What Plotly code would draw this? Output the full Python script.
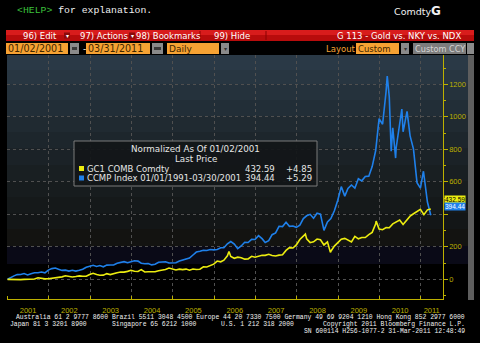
import plotly.graph_objects as go

W, H = 480, 343

# ---------------- data ----------------
start_date = "2001-01-02"
end_date = "2011-03-30"
# month-end values, Jan 2001 .. Feb 2011 (percent change since 01/02/2001)
gold_monthly = [
    -0.7, -0.3, -3.7, -1.6, 0.0, 1.2, -0.6, 2.1, 9.6, 4.2, 3.0, 3.4,
    5.5, 11.0, 12.7, 15.2, 22.0, 19.0, 14.0, 17.0, 21.0, 18.5, 19.3, 29.8,
    37.4, 29.9, 25.2, 25.9, 35.1, 29.3, 32.6, 40.4, 45.0, 44.4, 48.9, 55.6,
    49.5, 48.0, 59.7, 45.2, 47.0, 48.0, 46.3, 52.3, 55.4, 60.1, 69.2, 63.7,
    57.8, 62.8, 59.8, 62.9, 56.0, 63.4, 60.4, 62.0, 76.9, 76.0, 85.3, 93.3,
    112.6, 107.9, 117.6, 144.7, 140.4, 129.3, 136.4, 133.0, 124.0, 125.7, 141.8, 136.3,
    143.2, 148.3, 147.4, 153.7, 146.4, 143.2, 148.8, 151.2, 177.7, 195.1, 192.9, 211.7,
    245.2, 263.2, 249.0, 225.6, 231.1, 247.8, 243.2, 211.4, 230.7, 173.2, 204.5, 225.2,
    246.7, 252.1, 242.6, 230.2, 264.7, 249.3, 257.2, 257.2, 274.5, 288.8, 341.7, 309.7,
    304.9, 318.0, 317.0, 340.9, 351.4, 365.0, 337.0, 365.8, 388.6, 403.5, 417.2, 431.2,
    398.0, 427.5,
]
ccmp_monthly = [
    10.8, 21.2, 29.0, 29.7, 35.4, 27.3, 34.3, 40.6, 40.9, 45.2, 40.1, 56.8,
    65.9, 69.5, 61.5, 54.8, 56.6, 50.8, 55.4, 50.6, 56.0, 61.9, 74.6, 81.1,
    86.3, 79.4, 84.6, 76.9, 87.4, 88.3, 88.5, 98.7, 104.0, 108.5, 101.8, 107.8,
    114.1, 112.0, 98.9, 96.3, 96.7, 88.9, 93.2, 104.8, 104.4, 108.0, 100.7, 101.2,
    102.0, 112.3, 118.6, 125.8, 131.3, 149.7, 167.8, 172.9, 179.1, 177.2, 183.3, 181.4,
    183.5, 194.3, 194.6, 218.5, 232.6, 217.0, 189.0, 205.3, 228.2, 226.7, 245.8, 245.3,
    269.1, 250.2, 226.8, 237.3, 274.6, 285.7, 326.3, 324.6, 350.9, 326.3, 328.3, 320.0,
    333.2, 373.6, 390.9, 399.8, 375.8, 406.8, 400.9, 301.0, 353.1, 373.8, 421.5, 486.5,
    570.3, 512.0, 558.4, 580.2, 560.8, 618.5, 605.8, 632.8, 634.6, 693.5, 792.4, 988.5,
    954.0, 1156.3, 1123.2, 932.7, 809.7, 960.9, 907.7, 1025.2, 882.5, 801.4, 594.9, 560.8,
    641.7, 475.6,
]
gold_extra_dates = ["2006-05-12", "2008-03-17", "2008-10-24", "2009-12-02"]
gold_extra_vals = [171.0, 278.0, 166.0, 358.0]
ccmp_extra_dates = ["2010-03-10", "2010-04-14", "2010-05-23", "2010-07-17", "2010-09-01", "2011-01-24"]
ccmp_extra_vals = [1250.5, 788.0, 746.0, 1047.6, 1032.6, 665.0]
gold_last, gold_chg = 432.59, 4.85
ccmp_last, ccmp_chg = 394.44, 5.29
gold_name = "GC1 COMB Comdty"
ccmp_name = "CCMP Index 01/01/1991-03/30/2001"
years = [str(y) for y in range(2001, 2012)]
year_label_pos = [f"{y}-07-02" for y in range(2001, 2011)] + ["2011-04-07"]
y_ticks = [0, 200, 400, 600, 800, 1000, 1200]
y_ticktext = ["0", "200", "", "600", "800", "1000", "1200"]

month_dates = [f"{y}-{m:02d}-28" for y in range(2001, 2012) for m in range(1, 13)][:len(gold_monthly)]


def build(extra_d, extra_v, monthly, last):
    pts = [(start_date, 0.0)] + list(zip(month_dates, monthly)) + list(zip(extra_d, extra_v)) + [(end_date, last)]
    pts.sort(key=lambda p: p[0])
    return [p[0] for p in pts], [p[1] for p in pts]


gx, gy = build(gold_extra_dates, gold_extra_vals, gold_monthly, gold_last)
cx, cy = build(ccmp_extra_dates, ccmp_extra_vals, ccmp_monthly, ccmp_last)

YELLOW = "#ecec10"
BLUE = "#1f80ea"
OLIVE = "#bdb000"
GRID = "#505050"


def px(x):
    return x / W


def py(y):
    return (H - y) / H


fig = go.Figure()
fig.add_trace(go.Scatter(x=cx, y=cy, mode="lines", line=dict(color=BLUE, width=1.6), showlegend=False))
fig.add_trace(go.Scatter(x=gx, y=gy, mode="lines", line=dict(color=YELLOW, width=1.6), showlegend=False))

shapes = []
bands = [
    (55, 70, "#2a3946"), (70, 84, "#283641"), (84, 100, "#25323c"), (100, 116, "#222e37"),
    (116, 132, "#202a31"), (132, 148, "#1d262c"), (148, 165, "#1b2227"), (165, 181, "#191f22"),
    (181, 197, "#171c1e"), (197, 213, "#15191a"), (213, 229, "#131617"), (229, 246, "#131311"),
    (246, 264, "#0a0a17"), (264, 299, "#000000"),
]
for y0, y1, c in bands:
    shapes.append(dict(type="rect", xref="paper", yref="paper", x0=px(7), x1=px(468), y0=py(y1), y1=py(y0),
                       fillcolor=c, line=dict(width=0), layer="below"))
shapes.append(dict(type="rect", xref="paper", yref="paper", x0=px(468), x1=px(474), y0=py(300), y1=py(55),
                   fillcolor="#5e5e5e", line=dict(width=0), layer="below"))
# red toolbar
shapes.append(dict(type="rect", xref="paper", yref="paper", x0=px(6), x1=px(474), y0=py(41), y1=py(30),
                   fillcolor="#b80c0c", line=dict(width=0), layer="below"))
shapes.append(dict(type="rect", xref="paper", yref="paper", x0=px(6), x1=px(474), y0=py(35), y1=py(30),
                   fillcolor="#d81c1c", line=dict(width=0), layer="below"))
for sx in [200, 266]:
    shapes.append(dict(type="line", xref="paper", yref="paper", x0=px(sx), x1=px(sx), y0=py(40), y1=py(31),
                       line=dict(color="#8a0000", width=1), layer="below"))
for sx in [64, 129]:
    shapes.append(dict(type="rect", xref="paper", yref="paper", x0=px(sx), x1=px(sx + 6), y0=py(38.5), y1=py(32.5),
                       fillcolor="#8a0a0a", line=dict(width=0), layer="below"))
ORANGE = "#f6a233"
for x0, x1, c in [(6, 68, ORANGE), (70, 79, "#8a8a8a"), (86, 150, ORANGE), (152, 163, "#8a8a8a"),
                  (167, 219, ORANGE), (221, 229, "#8a8a8a"), (356, 399, ORANGE), (401, 409, "#8a8a8a"),
                  (413, 466, "#7c7c7c"), (467, 474, "#8a8a8a")]:
    shapes.append(dict(type="rect", xref="paper", yref="paper", x0=px(x0), x1=px(x1), y0=py(54), y1=py(43),
                       fillcolor=c, line=dict(width=0), layer="below"))
for x0, x1 in [(72, 77), (154, 161)]:
    shapes.append(dict(type="rect", xref="paper", yref="paper", x0=px(x0), x1=px(x1), y0=py(50), y1=py(47),
                       fillcolor="#3a3a3a", line=dict(width=0), layer="below"))
# legend box
shapes.append(dict(type="rect", xref="paper", yref="paper", x0=px(74), x1=px(317), y0=py(186), y1=py(141),
                   fillcolor="rgba(18,22,24,0.92)", line=dict(color="#7a7a7a", width=1), layer="above"))
shapes.append(dict(type="rect", xref="paper", yref="paper", x0=px(79), x1=px(84), y0=py(171), y1=py(166),
                   fillcolor=YELLOW, line=dict(width=0), layer="above"))
shapes.append(dict(type="rect", xref="paper", yref="paper", x0=px(79), x1=px(84), y0=py(180.5), y1=py(175.5),
                   fillcolor=BLUE, line=dict(width=0), layer="above"))

SANS = "DejaVu Sans"
MONO = "Liberation Mono"
anns = []


def ann(text, x, y, size, color, anchor="left", family=SANS, **kw):
    anns.append(dict(text=text, x=px(x), y=py(y), xref="paper", yref="paper", xanchor=anchor, yanchor="middle",
                     showarrow=False, borderpad=0, font=dict(family=family, size=size, color=color), **kw))


# header line
ann("<span style='color:#3cc03c'>&lt;HELP&gt;</span> for explanation.", 16, 11, 9.8, "#f0f0f0", family=MONO)
ann("Comdty<b style='font-size:12px'>G</b>", 393, 11, 9.5, "#f0f0f0")
# toolbar
TB = 8.5
ann("96) Edit", 22, 35.5, TB, "#ffffff")
ann("▾", 67, 35.5, 6, "#ffffff", anchor="center")
ann("97) Actions", 79, 35.5, TB, "#ffffff")
ann("▾", 132, 35.5, 6, "#ffffff", anchor="center")
ann("98) Bookmarks", 135, 35.5, TB, "#ffffff")
ann("99) Hide", 213, 35.5, TB, "#ffffff")
ann("G 113 - Gold vs. NKY vs. NDX", 462, 35.5, TB, "#ffffff", anchor="right")
ann(start_date[5:7] + "/" + start_date[8:10] + "/" + start_date[:4], 7, 48.5, 9.6, "#3e2600")
ann("-", 82, 48.5, 9, "#ffffff")
ann("03/31/2011", 87, 48.5, 9.6, "#3e2600")
ann("Daily", 168, 48.5, 9, "#3e2600")
ann("▾", 225, 48.5, 6, "#333333", anchor="center")
ann("Layout", 325, 48.5, 8.5, ORANGE)
ann("Custom", 357, 48.5, 8.5, "#3e2600")
ann("▾", 405, 48.5, 6, "#333333", anchor="center")
ann("Custom CCY", 414, 48.5, 8.2, "#d4d4d4")
# legend text
LG = 8.5
ann("Normalized As Of 01/02/2001", 195.5, 149.5, 8.75, "#e6e6e6", anchor="center")
ann("Last Price", 195.5, 159.3, 8.75, "#e6e6e6", anchor="center")
ann(gold_name, 86, 168.5, LG, "#e6e6e6")
ann(ccmp_name, 86, 178, LG, "#e6e6e6")
ann(f"{gold_last:.2f}", 276, 168.5, LG, "#e6e6e6", anchor="right")
ann(f"+{gold_chg:.2f}", 313, 168.5, LG, "#e6e6e6", anchor="right")
ann(f"{ccmp_last:.2f}", 276, 178, LG, "#e6e6e6", anchor="right")
ann(f"+{ccmp_chg:.2f}", 313, 178, LG, "#e6e6e6", anchor="right")
# footer
FOOT = 6.4
ann("Australia 61 2 9777 8600 Brazil 5511 3048 4500 Europe 44 20 7330 7500 Germany 49 69 9204 1210 Hong Kong 852 2977 6000",
    466, 317.5, FOOT, "#f0f0f0", anchor="right", family=MONO)
ann("Japan 81 3 3201 8900", 9, 324.3, FOOT, "#f0f0f0", family=MONO)
ann("Singapore 65 6212 1000", 111, 324.3, FOOT, "#f0f0f0", family=MONO)
ann("U.S. 1 212 318 2000", 220, 324.3, FOOT, "#f0f0f0", family=MONO)
ann("Copyright 2011 Bloomberg Finance L.P.", 466, 324.3, FOOT, "#f0f0f0", anchor="right", family=MONO)
ann("SN 600114 H256-1077-2 31-Mar-2011 12:48:49", 466, 331, FOOT, "#f0f0f0", anchor="right", family=MONO)

# last-value tags on the right axis
anns.append(dict(text=f"{gold_last:.2f}", x=px(443.5), xref="paper", y=gold_last, yref="y", xanchor="left",
                 yanchor="middle", yshift=10, showarrow=False, bgcolor=YELLOW, borderpad=0,
                 font=dict(family="Liberation Sans", size=6.5, color="#000000")))
anns.append(dict(text=f"{ccmp_last:.2f}", x=px(443.5), xref="paper", y=ccmp_last, yref="y", xanchor="left",
                 yanchor="middle", yshift=9, showarrow=False, bgcolor=BLUE, borderpad=0,
                 font=dict(family="Liberation Sans", size=6.5, color="#ffffff")))

fig.update_layout(
    width=W, height=H, margin=dict(l=0, r=0, t=0, b=0),
    paper_bgcolor="#000000", plot_bgcolor="rgba(0,0,0,0)",
    shapes=shapes, annotations=anns, showlegend=False,
    xaxis=dict(
        type="date", domain=[px(7), px(442.7)], range=["2000-12-28", "2011-07-13"],
        tickmode="array", tickvals=year_label_pos, ticktext=years, ticks="", showgrid=False,
        tickfont=dict(family="Liberation Sans", size=7.5, color=OLIVE), ticklabelstandoff=4,
        showline=True, linecolor=OLIVE, linewidth=1, zeroline=False,
        minor=dict(tick0="2001-01-01", dtick="M12", showgrid=True, gridcolor=GRID, griddash="dot",
                   gridwidth=1, ticks="inside", ticklen=3, tickcolor=OLIVE),
    ),
    yaxis=dict(
        domain=[py(299), py(55)], range=[-121, 1380], side="right",
        tickmode="array", tickvals=y_ticks, ticktext=y_ticktext,
        ticks="outside", ticklen=4, tickcolor=OLIVE,
        tickfont=dict(family="Liberation Sans", size=7.5, color=OLIVE),
        showgrid=True, gridcolor=GRID, griddash="dot", gridwidth=1, zeroline=False,
        showline=True, linecolor=OLIVE, linewidth=1,
        minor=dict(dtick=100, tick0=0, ticks="outside", ticklen=2, tickcolor=OLIVE, showgrid=False),
    ),
)

fig.write_html("out.html")
